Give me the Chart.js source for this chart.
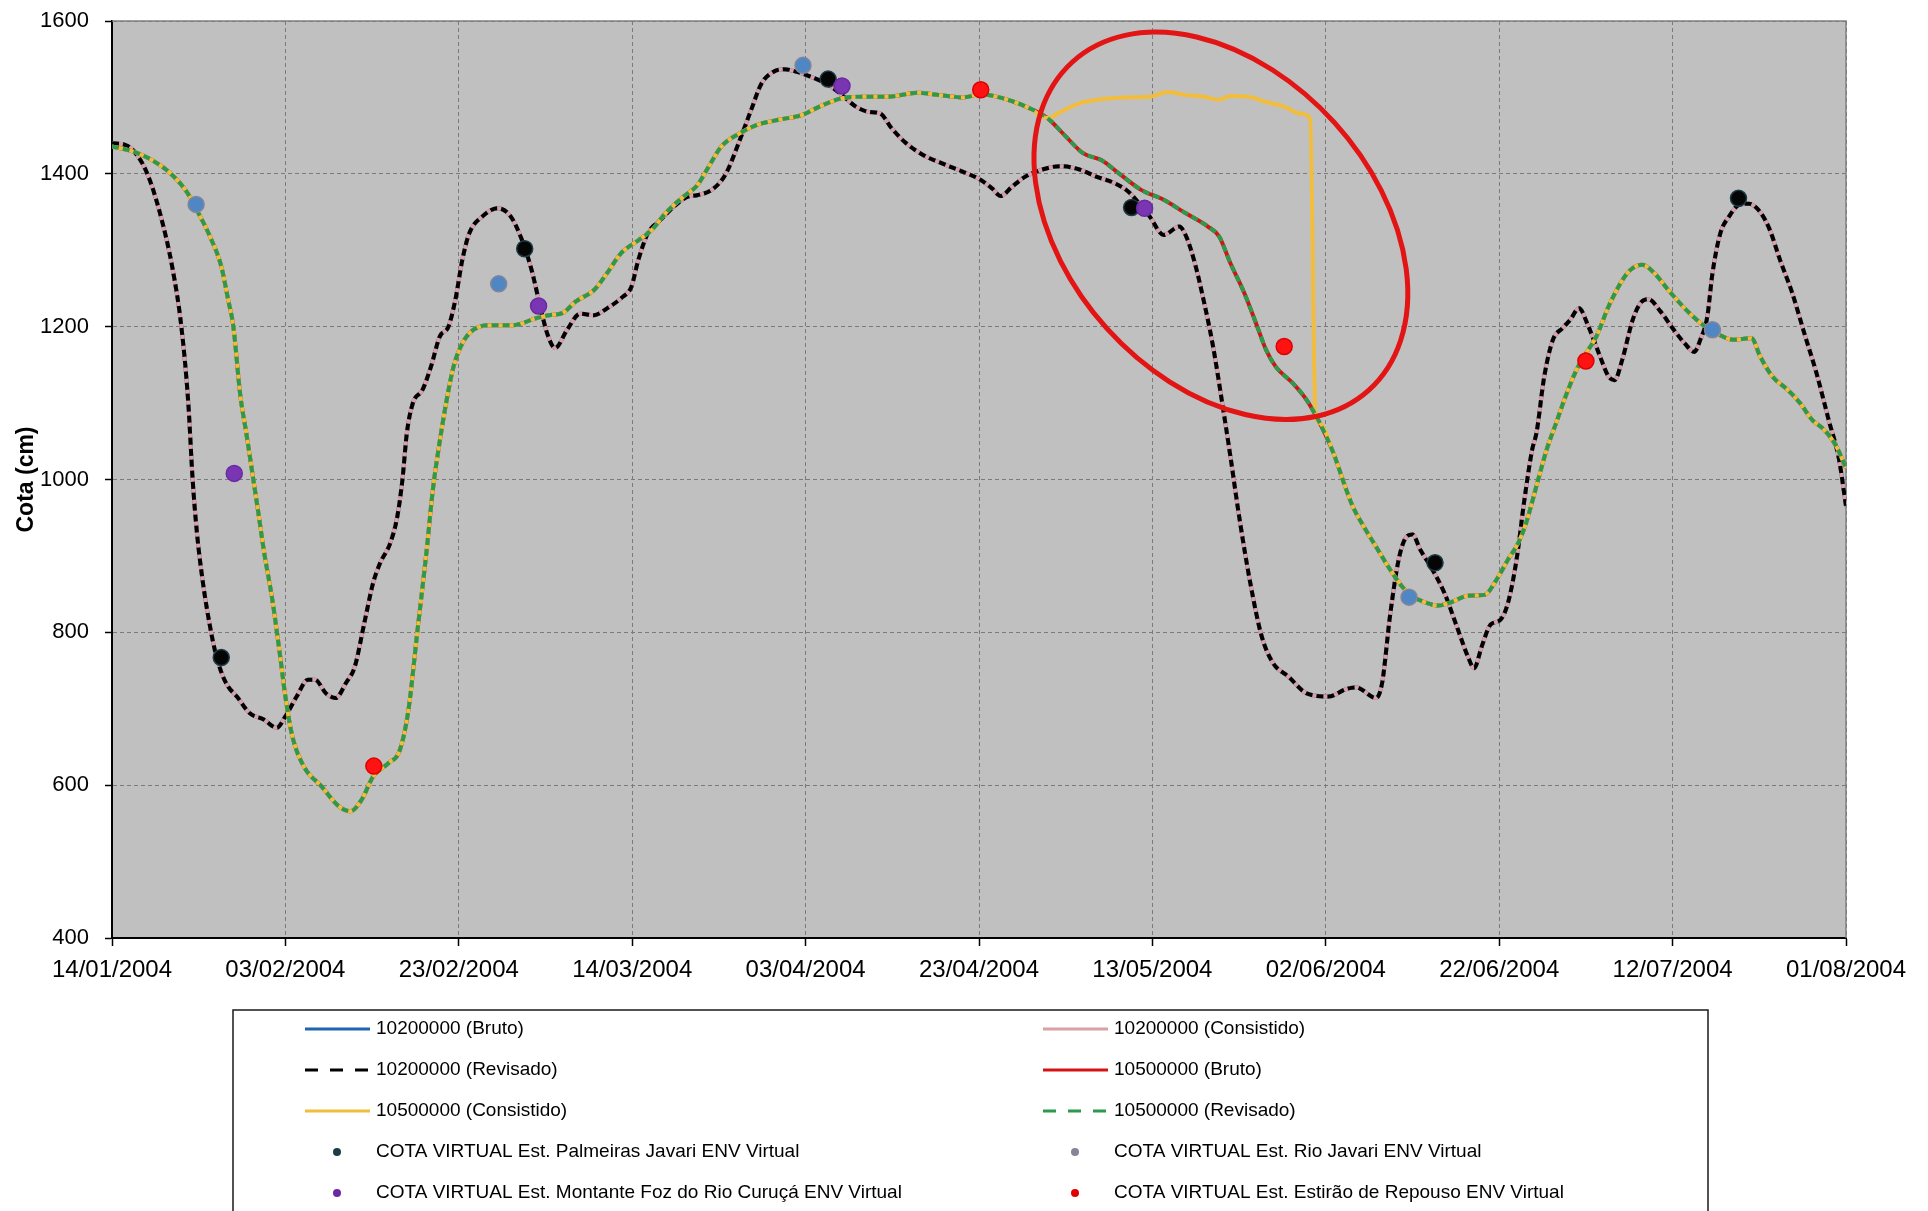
<!DOCTYPE html>
<html>
<head>
<meta charset="utf-8">
<title>Cota - 10200000 / 10500000</title>
<script src="https://cdn.jsdelivr.net/npm/chart.js@4.4.1/dist/chart.umd.min.js"></script>
<style>
  html, body { margin: 0; padding: 0; background: #fff; }
</style>
</head>
<body>
<canvas id="grafico" width="1928" height="1211"></canvas>
<script>
// dias contados a partir de 14/01/2004
var inicio = Date.UTC(2004, 0, 14);

var rotulosX = ['14/01/2004', '03/02/2004', '23/02/2004', '14/03/2004', '03/04/2004', '23/04/2004',
                '13/05/2004', '02/06/2004', '22/06/2004', '12/07/2004', '01/08/2004'];

// 10200000 - bruto, consistido e revisado (as tres curvas se sobrepoem)
var dias10200 = [0, 1.5, 2.5, 4, 5.5, 7, 8, 8.8, 9.3, 9.8,
  10.5, 11.3, 11.9, 12.7, 13.4, 14.4, 15.9, 17.5, 19, 20,
  21.3, 22.6, 23.4, 24.7, 25.8, 27, 28, 29.1, 30.1, 30.9,
  32.1, 32.9, 33.5, 34, 34.7, 35.8, 36.8, 37.8, 38.8, 39.6,
  40.4, 41.2, 42.7, 44.5, 46, 47.3, 48.4, 49.4, 50.2, 51.1,
  52.5, 54, 55.6, 57.1, 58.9, 59.9, 60.7, 61.8, 63.3, 64.8,
  66.4, 67.5, 69.3, 70.8, 72.4, 73.7, 74.9, 76.2, 77.5, 79.1,
  80.6, 82.7, 84.2, 85.8, 87.3, 88.6, 89.9, 91.4, 93.5, 96.1,
  98.1, 100.2, 101.5, 102.5, 103.8, 105.3, 107.4, 109.4, 111.5, 113.6,
  115.6, 117.2, 118.5, 119.7, 121.3, 123.1, 123.9, 124.9, 125.9, 127,
  128, 129, 130, 131.3, 132.6, 133.9, 135.7, 137.8, 140.3, 142.4,
  143.5, 145.8, 146.5, 147.4, 148.4, 149.3, 150, 150.9, 152.3, 153.7,
  155.1, 156.4, 157.1, 158, 159, 160.1, 161, 162, 162.9, 163.8,
  164.3, 165.2, 166.2, 167.3, 168.2, 169.2, 170.3, 171.5, 172.6, 173.3,
  174.2, 175.4, 176.3, 177.2, 178.6, 180, 181.4, 182.5, 183.2, 184,
  184.6, 185.5, 186.5, 187.6, 188.8, 190.1, 191.2, 192.4, 193.8, 195.2,
  196.6, 198, 199.2, 200];
var cota10200 = [1440, 1438, 1430, 1402, 1350, 1275, 1200, 1100, 1000, 930,
  864, 808, 775, 745, 729, 716, 694, 686, 675, 690,
  716, 738, 738, 720, 714, 734, 755, 812, 864, 890,
  917, 951, 1000, 1060, 1100, 1117, 1148, 1187, 1200, 1235,
  1287, 1322, 1344, 1355, 1344, 1313, 1274, 1226, 1191, 1172,
  1196, 1217, 1215, 1224, 1239, 1252, 1287, 1322, 1340, 1357,
  1370, 1372, 1380, 1400, 1444, 1483, 1518, 1533, 1537, 1533,
  1527, 1516, 1503, 1488, 1481, 1479, 1460, 1442, 1425, 1412,
  1403, 1392, 1381, 1371, 1383, 1396, 1406, 1410, 1406, 1396,
  1388, 1377, 1361, 1344, 1320, 1331, 1318, 1283, 1235, 1174,
  1104, 1030, 952, 864, 795, 760, 742, 720, 716, 726,
  728, 714, 734, 821, 895, 925, 928, 908, 882, 851,
  808, 768, 753, 782, 810, 816, 838, 895, 973, 1039,
  1061, 1135, 1183, 1198, 1209, 1224, 1200, 1165, 1135, 1130,
  1157, 1209, 1231, 1236, 1220, 1198, 1178, 1167, 1183, 1213,
  1270, 1322, 1344, 1359, 1361, 1350, 1327, 1287, 1244, 1191,
  1139, 1078, 1026, 965];

// 10500000 - bruto e revisado
var dias10500 = [0, 2.5, 4.6, 6.7, 8.7, 10, 11.3, 12.6, 13.4, 14,
  14.8, 15.5, 16.3, 16.9, 17.5, 18.5, 19.3, 20.05, 20.8, 22.1,
  24.2, 26.2, 27.5, 28.8, 30.1, 31.9, 33.2, 34.2, 35.2, 36.3,
  37, 37.6, 38.6, 39.4, 40.4, 41.7, 43.7, 46.3, 48.9, 50.4,
  52, 53.5, 55.6, 57.1, 58.7, 60.7, 62.3, 63.8, 65.9, 67.5,
  68.8, 70.3, 72.4, 74.4, 77, 79.6, 81.6, 84.2, 86.8, 89.4,
  93, 95.5, 98.1, 100.2, 103.3, 105.8, 107.9, 110, 112, 114.1,
  116.1, 118.7, 121.3, 123.9, 126.4, 127.7, 129, 130.6, 132.1, 133.1,
  134.2, 136.2, 137.8, 139.3, 140.9, 142.1, 143.1, 144.4, 145.8, 147.2,
  148.8, 150, 151.3, 153, 154.6, 156.4, 158.3, 159.7, 161, 162.2,
  163.1, 164.5, 165.5, 166.6, 167.5, 168.9, 170, 171.2, 172.6, 174,
  175.1, 176.5, 177.9, 179.5, 181.4, 183.2, 185.1, 187, 189.1, 190.1,
  191.5, 193.3, 194.7, 196.1, 197.5, 198.9, 200];
var cota10500 = [1436, 1429, 1418, 1401, 1375, 1348, 1318, 1279, 1235, 1200,
  1110, 1060, 1000, 955, 908, 842, 777, 712, 664, 625,
  598, 572, 566, 581, 611, 629, 646, 699, 799, 908,
  986, 1035, 1104, 1148, 1178, 1196, 1202, 1202, 1211, 1215,
  1218, 1233, 1248, 1270, 1296, 1313, 1327, 1348, 1370, 1385,
  1409, 1436, 1453, 1464, 1471, 1477, 1488, 1499, 1501, 1501,
  1506, 1503, 1500, 1504, 1497, 1486, 1473, 1449, 1427, 1418,
  1401, 1379, 1366, 1348, 1331, 1318, 1283, 1244, 1200, 1170,
  1148, 1126, 1104, 1074, 1034, 995, 965, 938, 912, 886,
  860, 847, 840, 835, 840, 848, 849, 869, 895, 917,
  943, 1000, 1040, 1075, 1104, 1143, 1165, 1187, 1226, 1257,
  1274, 1281, 1270, 1248, 1224, 1205, 1191, 1183, 1185, 1161,
  1135, 1117, 1100, 1078, 1065, 1043, 1015];

// trecho em que o consistido da 10500000 fica no patamar e cai de uma vez
var diasPatamar = [109.4, 111.5, 113.6, 116.7, 119.7, 121.8, 123.9, 125.9, 127.7, 129, 131.1, 133.1, 135.2, 137, 138.2, 138.8];
var cotaPatamar = [1481, 1492, 1497, 1500, 1501, 1507, 1503, 1501, 1497, 1502, 1501, 1494, 1488, 1479, 1472, 1086];

// cotas virtuais (altimetria)
var diasPalmeiras = [12.6, 47.6, 82.6, 117.6, 152.6, 187.6];
var cotaPalmeiras = [767, 1302, 1524, 1356, 891, 1368];
var diasRioJavari = [9.7, 44.6, 79.7, 149.6, 184.6];
var cotaRioJavari = [1360, 1256, 1542, 846, 1196];
var diasMontante = [14.1, 49.2, 84.2, 119.1];
var cotaMontante = [1008, 1227, 1515, 1355];
var diasEstirao = [30.2, 100.2, 135.2, 170];
var cotaEstirao = [625, 1510, 1174, 1155];

// elipse vermelha de destaque (centro em dia/cota, semi-eixos em dias)
var destaque = { dia: 127.9, cota: 1332, semiMaior: 25.5, semiMenor: 17.7, angulo: 47.9 };

function diaDe(rotulo) {
  var p = rotulo.split('/');
  return (Date.UTC(+p[2], +p[1] - 1, +p[0]) - inicio) / 86400000;
}

function pares(dias, cotas) {
  return dias.map(function (d, i) { return { x: d, y: cotas[i] }; });
}

var serie10500 = pares(dias10500, cota10500);
var consistido10500 = serie10500.filter(function (p) { return p.x < diasPatamar[0]; })
  .concat(pares(diasPatamar, cotaPatamar))
  .concat(serie10500.filter(function (p) { return p.x > diasPatamar[diasPatamar.length - 1]; }));

function linha(nome, dados, cor, traco, ordem) {
  return {
    label: nome, data: dados, borderColor: cor, backgroundColor: cor,
    borderWidth: 4, borderDash: traco || [], pointRadius: 0, fill: false,
    cubicInterpolationMode: 'monotone', order: ordem
  };
}

function pontos(nome, dados, cor, borda, ordem) {
  return {
    label: nome, data: dados, showLine: false,
    pointRadius: 8, pointBorderWidth: 1.5,
    pointBackgroundColor: cor, pointBorderColor: borda,
    borderColor: borda, backgroundColor: cor, order: ordem
  };
}

var fonte = "'Liberation Sans', Arial, sans-serif";
Chart.defaults.font.family = fonte;
Chart.defaults.color = '#000';

// fundo cinza da area de plotagem e moldura superior/direita
var fundoPlugin = {
  id: 'fundo',
  beforeDraw: function (chart) {
    var a = chart.chartArea, ctx = chart.ctx;
    ctx.save();
    ctx.fillStyle = '#c0c0c0';
    ctx.fillRect(a.left, a.top, a.right - a.left, a.bottom - a.top);
    ctx.restore();
  },
  beforeDatasetsDraw: function (chart) {
    var a = chart.chartArea, ctx = chart.ctx;
    ctx.save();
    ctx.strokeStyle = '#808080';
    ctx.lineWidth = 1.5;
    ctx.beginPath();
    ctx.moveTo(a.left, a.top);
    ctx.lineTo(a.right, a.top);
    ctx.lineTo(a.right, a.bottom);
    ctx.stroke();
    ctx.restore();
  }
};

var elipsePlugin = {
  id: 'elipse',
  afterDatasetsDraw: function (chart) {
    var x = chart.scales.x, y = chart.scales.y, ctx = chart.ctx;
    var pxDia = x.getPixelForValue(1) - x.getPixelForValue(0);
    ctx.save();
    ctx.strokeStyle = '#e31414';
    ctx.lineWidth = 5;
    ctx.beginPath();
    ctx.ellipse(x.getPixelForValue(destaque.dia), y.getPixelForValue(destaque.cota),
      destaque.semiMaior * pxDia, destaque.semiMenor * pxDia,
      destaque.angulo * Math.PI / 180, 0, 2 * Math.PI);
    ctx.stroke();
    ctx.restore();
  }
};

// legenda em duas colunas, em caixa abaixo do eixo
var legendaPlugin = {
  id: 'legenda',
  afterDraw: function (chart) {
    var ctx = chart.ctx;
    var caixa = { x: 233, y: 1010, w: 1475, h: 240 };
    ctx.save();
    ctx.strokeStyle = '#1a1a1a';
    ctx.lineWidth = 1.5;
    ctx.strokeRect(caixa.x, caixa.y, caixa.w, caixa.h);
    ctx.font = '19px ' + fonte;
    ctx.textBaseline = 'middle';
    chart.data.datasets.forEach(function (ds, i) {
      var x0 = caixa.x + 72 + (i % 2) * 738;
      var yc = caixa.y + 19 + Math.floor(i / 2) * 41;
      if (ds.showLine === false) {
        ctx.fillStyle = ds.pointBorderColor;
        ctx.beginPath();
        ctx.arc(x0 + 32, yc, 4, 0, 2 * Math.PI);
        ctx.fill();
      } else {
        ctx.strokeStyle = ds.borderColor;
        ctx.lineWidth = 3;
        ctx.setLineDash(ds.borderDash.length ? [13, 12] : []);
        ctx.beginPath();
        ctx.moveTo(x0, yc);
        ctx.lineTo(x0 + 65, yc);
        ctx.stroke();
        ctx.setLineDash([]);
      }
      ctx.fillStyle = '#000';
      ctx.fillText(ds.label, x0 + 71, yc);
    });
    ctx.restore();
  }
};

var grafico = new Chart(document.getElementById('grafico'), {
  type: 'line',
  data: {
    datasets: [
      linha('10200000 (Bruto)', pares(dias10200, cota10200), '#1f64b0', null, 9),
      linha('10200000 (Consistido)', pares(dias10200, cota10200), '#d9a0a6', null, 8),
      linha('10200000 (Revisado)', pares(dias10200, cota10200), '#000000', [7, 4], 7),
      linha('10500000 (Bruto)', serie10500, '#d41414', null, 6),
      linha('10500000 (Consistido)', consistido10500, '#f2bd3c', null, 5),
      linha('10500000 (Revisado)', serie10500, '#2b9a4c', [7, 4], 4),
      pontos('COTA VIRTUAL Est. Palmeiras Javari ENV Virtual', pares(diasPalmeiras, cotaPalmeiras), '#050505', '#1d3b44', 3),
      pontos('COTA VIRTUAL Est. Rio Javari ENV Virtual', pares(diasRioJavari, cotaRioJavari), '#4f86c4', '#858599', 2),
      pontos('COTA VIRTUAL Est. Montante Foz do Rio Curuçá ENV Virtual', pares(diasMontante, cotaMontante), '#7a35b2', '#6a2aa2', 1),
      pontos('COTA VIRTUAL Est. Estirão de Repouso ENV Virtual', pares(diasEstirao, cotaEstirao), '#ff1212', '#e00000', 0)
    ]
  },
  options: {
    responsive: false,
    animation: false,
    layout: { padding: { left: 0, top: 21, right: 82, bottom: 211 } },
    plugins: {
      legend: { display: false },
      tooltip: { enabled: false }
    },
    scales: {
      x: {
        type: 'linear',
        min: diaDe(rotulosX[0]),
        max: diaDe(rotulosX[rotulosX.length - 1]),
        afterBuildTicks: function (scale) {
          scale.ticks = rotulosX.map(function (r) { return { value: diaDe(r) }; });
        },
        afterFit: function (scale) { scale.height = 62; },
        ticks: {
          autoSkip: false, maxRotation: 0, padding: 10,
          font: { size: 24 }, color: '#000',
          callback: function (v, i) { return rotulosX[i]; }
        },
        grid: { color: '#7a7a7a', lineWidth: 1, tickLength: 8, tickColor: '#000', tickWidth: 1.5 },
        border: { display: true, color: '#000', width: 2, dash: [4, 3] }
      },
      y: {
        min: 400, max: 1600,
        afterFit: function (scale) {
          scale.width = 112;
          scale.paddingTop = 0;
          scale.paddingBottom = 0;
        },
        ticks: {
          stepSize: 200, padding: 16, font: { size: 22 }, color: '#000',
          callback: function (v) { return String(v); }
        },
        grid: { color: '#7a7a7a', lineWidth: 1, tickLength: 7, tickColor: '#000', tickWidth: 1.5 },
        border: { display: true, color: '#000', width: 2, dash: [4, 3] },
        title: { display: true, text: 'Cota (cm)', font: { size: 23, weight: 'bold' }, padding: { top: 13, bottom: 0 } }
      }
    }
  },
  plugins: [fundoPlugin, elipsePlugin, legendaPlugin]
});
</script>
</body>
</html>
